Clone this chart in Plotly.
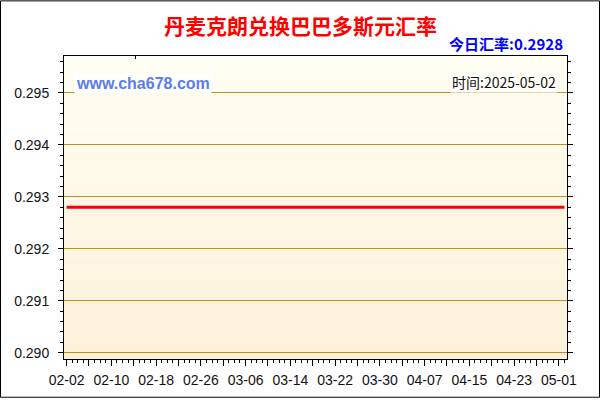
import pandas as pd
import plotly.graph_objects as go

# data: daily DKK -> BBD rate
dates = pd.date_range("2025-02-02", "2025-05-02", freq="D")
rates = [
    0.2928, 0.2928, 0.2928, 0.2928, 0.2928, 0.2928, 0.2928, 0.2928, 0.2928, 0.2928,
    0.2928, 0.2928, 0.2928, 0.2928, 0.2928, 0.2928, 0.2928, 0.2928, 0.2928, 0.2928,
    0.2928, 0.2928, 0.2928, 0.2928, 0.2928, 0.2928, 0.2928, 0.2928, 0.2928, 0.2928,
    0.2928, 0.2928, 0.2928, 0.2928, 0.2928, 0.2928, 0.2928, 0.2928, 0.2928, 0.2928,
    0.2928, 0.2928, 0.2928, 0.2928, 0.2928, 0.2928, 0.2928, 0.2928, 0.2928, 0.2928,
    0.2928, 0.2928, 0.2928, 0.2928, 0.2928, 0.2928, 0.2928, 0.2928, 0.2928, 0.2928,
    0.2928, 0.2928, 0.2928, 0.2928, 0.2928, 0.2928, 0.2928, 0.2928, 0.2928, 0.2928,
    0.2928, 0.2928, 0.2928, 0.2928, 0.2928, 0.2928, 0.2928, 0.2928, 0.2928, 0.2928,
    0.2928, 0.2928, 0.2928, 0.2928, 0.2928, 0.2928, 0.2928, 0.2928, 0.2928, 0.2928,
]
x_labels = ["02-02", "02-10", "02-18", "02-26", "03-06", "03-14",
            "03-22", "03-30", "04-07", "04-15", "04-23", "05-01"]
y_ticks = [0.290, 0.291, 0.292, 0.293, 0.294, 0.295]

title_text = "丹麦克朗兑换巴巴多斯元汇率"
today_text = "今日汇率:0.2928"
site_text = "www.cha678.com"
date_text = "时间:2025-05-02"

# major ticks every 4 days, label every other one
tick_vals = pd.date_range("2025-02-02", "2025-05-01", freq="4D")
tick_text = []
for i in range(len(tick_vals)):
    tick_text.append(x_labels[i // 2] if i % 2 == 0 else "")

L, R, T, B = 64, 567, 56, 361
W, H = R - L, B - T

fig = go.Figure()
fig.add_trace(go.Scatter(x=dates, y=rates, mode="lines",
                         line=dict(color="#FF0000", width=3),
                         hoverinfo="x+y", showlegend=False))
# empty trace so the top axis gets drawn
fig.add_trace(go.Scatter(x=[], y=[], xaxis="x2", showlegend=False))

# vertical gradient for plot background
n = 40
top_c, bot_c = (255, 254, 243), (253, 241, 217)
shapes = []
for i in range(n):
    f = (i + 0.5) / n
    c = tuple(round(bot_c[k] + (top_c[k] - bot_c[k]) * f) for k in range(3))
    shapes.append(dict(type="rect", xref="x domain", yref="y domain",
                       x0=0, x1=1, y0=i / n, y1=(i + 1) / n + 0.002,
                       fillcolor="rgb(%d,%d,%d)" % c, line=dict(width=0),
                       layer="below"))
# outer frame
shapes.append(dict(type="rect", xref="paper", yref="paper",
                   x0=(0.5 - L) / W, x1=(599.5 - L) / W,
                   y0=(B - 399.5) / H, y1=(B - 0.5) / H,
                   line=dict(color="black", width=1), layer="above"))

tickfont = dict(family="Liberation Sans, Arial", size=14, color="#111")
xr = ["2025-02-01 13:00", "2025-05-02 11:00"]

fig.update_layout(
    width=600, height=400,
    margin=dict(l=L, r=600 - R, t=T, b=400 - B, pad=0),
    paper_bgcolor="white", plot_bgcolor="rgba(0,0,0,0)",
    shapes=shapes,
    xaxis=dict(range=xr, tickmode="array", tickvals=tick_vals, ticktext=tick_text,
               ticks="outside", ticklen=6, tickcolor="black", tickwidth=1,
               minor=dict(dtick=86400000, ticks="outside", ticklen=3,
                          tickcolor="black", showgrid=False),
               showgrid=False, zeroline=False, showline=True, linecolor="black",
               linewidth=1, mirror=True, tickfont=tickfont, ticklabelstandoff=2),
    xaxis2=dict(range=xr, overlaying="x", side="top", anchor="y",
                tickmode="array", tickvals=tick_vals, showticklabels=False,
                ticks="inside", ticklen=6, tickcolor="black",
                minor=dict(dtick=86400000, ticks="inside", ticklen=3,
                           tickcolor="black", showgrid=False),
                showgrid=False, zeroline=False, showline=False),
    yaxis=dict(range=[0.28988, 0.29571], tickmode="array", tickvals=y_ticks,
               tickformat=".3f", ticks="outside", ticklen=5, tickcolor="black",
               minor=dict(dtick=0.0002, ticks="outside", ticklen=3,
                          tickcolor="black", showgrid=False),
               showgrid=True, gridcolor="#C0901E", gridwidth=1,
               zeroline=False, showline=True, linecolor="black", linewidth=1,
               mirror="ticks", tickfont=tickfont, ticklabelstandoff=6),
    font=dict(family="Liberation Sans, Arial"),
    annotations=[
        dict(text="<b>%s</b>" % title_text, xref="paper", yref="paper",
             x=(300 - L) / W, y=(B - 25) / H, xanchor="center", yanchor="middle",
             showarrow=False,
             font=dict(family="Noto Sans CJK SC", size=21, color="#FF0000")),
        dict(text="<b>%s</b>" % today_text, xref="paper", yref="paper",
             x=(565 - L) / W, y=(B - 43) / H, xanchor="right", yanchor="middle",
             showarrow=False,
             font=dict(family="Noto Sans CJK SC, Liberation Sans", size=15,
                       color="#0000FF")),
        dict(text="<b>%s</b>" % site_text, xref="paper", yref="paper",
             x=(74 - L) / W, y=(B - 84) / H, xanchor="left", yanchor="middle",
             showarrow=False, bgcolor="white", borderpad=1,
             font=dict(family="Liberation Sans, Arial", size=16, color="#5A7CF0")),
        dict(text=date_text, xref="paper", yref="paper",
             x=(558 - L) / W, y=(B - 82) / H, xanchor="right", yanchor="middle",
             showarrow=False, bgcolor="rgba(255,255,255,0.6)", borderpad=1,
             font=dict(family="Noto Sans CJK SC, Liberation Sans", size=14,
                       color="#111")),
    ],
)

# drop the default page margin so the chart sits at the window corner
fig.write_html("out.html", config={"displayModeBar": False},
               post_script="document.body.style.margin='0';"
                           "document.body.style.overflow='hidden';")
